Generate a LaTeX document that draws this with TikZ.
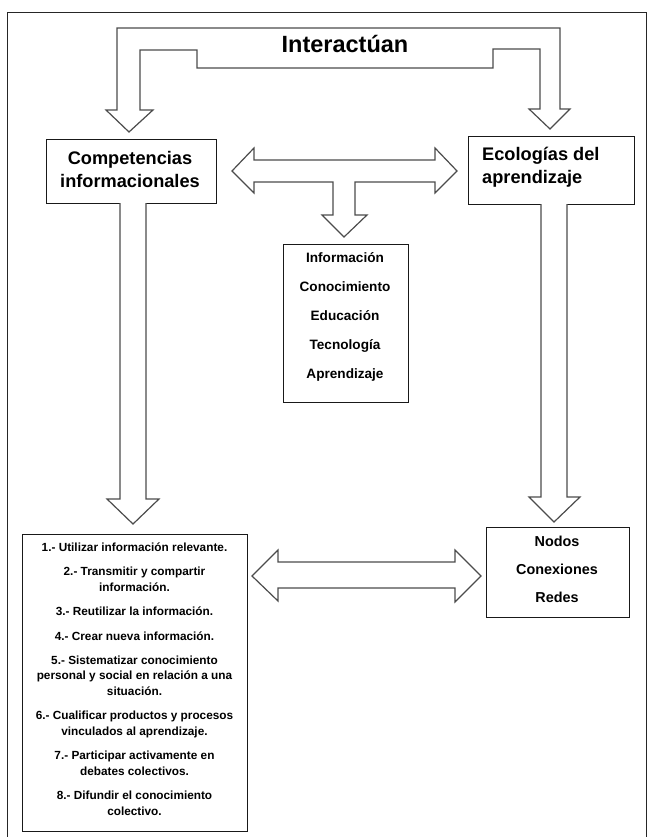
\documentclass[tikz,border=0pt]{standalone}
\usepackage{fontspec}
\setmainfont{Liberation Sans}
\begin{document}
\begin{tikzpicture}[x=1pt,y=-1pt,
  frame/.style={draw=black!85, line width=0.9pt},
  box/.style={draw=black!90, line width=1pt, fill=white, inner sep=0pt, outer sep=0pt},
  blockarrow/.style={draw=black!70, line width=1.2pt, line join=miter, fill=white},
  head/.style={font=\bfseries\fontsize{23.5}{28}\selectfont, inner sep=0pt},
  titletxt/.style={font=\bfseries\fontsize{18.2}{23}\selectfont, inner sep=0pt},
  wordtxt/.style={font=\bfseries\fontsize{13.6}{29}\selectfont, align=center, inner sep=0pt},
  listtxt/.style={font=\bfseries\fontsize{11.8}{15.5}\selectfont, align=center, inner sep=0pt}
]
\useasboundingbox (0,0) rectangle (648,837);
% outer frame
\draw[frame] (7,845) -- (7,12) -- (646,12) -- (646,845);

% boxes
\node[box, minimum width=170pt, minimum height=63pt] (comp) at (131,171.5) {};
\node[box, minimum width=166pt, minimum height=67pt] (eco) at (551,170.5) {};
\node[box, minimum width=125pt, minimum height=158pt] (info) at (345.5,323) {};
\node[box, minimum width=225pt, minimum height=297pt] (list) at (134.5,682.5) {};
\node[box, minimum width=143pt, minimum height=90pt] (nodos) at (557.5,572) {};

% Interactuan arrow
\draw[blockarrow] (129,132) -- (153,110) -- (140,110) -- (140,50) -- (197,50) -- (197,68)
  -- (493,68) -- (493,49) -- (540,49) -- (540,109) -- (529,109) -- (550,129)
  -- (570,109) -- (560,109) -- (560,28) -- (117,28) -- (117,110) -- (106,110) -- cycle;
\node[head] (inter) at (345,44) {Interactúan};

% middle double arrow with down stem
\draw[blockarrow] (232,171) -- (254,148) -- (254,160) -- (435,160) -- (435,148) -- (457,171)
  -- (435,193) -- (435,182) -- (355,182) -- (355,215) -- (367,215) -- (344,237)
  -- (322,215) -- (333,215) -- (333,182) -- (254,182) -- (254,193) -- cycle;

% long down arrows
\draw[blockarrow] (comp.south -| 120,0) -- (120,499) -- (107,499) -- (133,524) -- (159,499) -- (146,499) -- (comp.south -| 146,0);
\draw[blockarrow] (eco.south -| 541,0) -- (541,497) -- (529,497) -- (554,522) -- (580,497) -- (567,497) -- (eco.south -| 567,0);

% bottom double arrow
\draw[blockarrow] (252,576) -- (278,550) -- (278,562) -- (455,562) -- (455,550) -- (481,576)
  -- (455,602) -- (455,588) -- (278,588) -- (278,601) -- cycle;

% texts
\node[titletxt, align=center] (compt) at (130,169) {Competencias\\informacionales};
\node[titletxt, align=left, anchor=west] (ecot) at (482,167) {Ecologías del\\aprendizaje};
\node[wordtxt] (infot) at (345,317) {Información\\Conocimiento\\Educación\\Tecnología\\Aprendizaje};
\node[wordtxt, font=\bfseries\fontsize{14.4}{28}\selectfont] (nodost) at (557,569) {Nodos\\Conexiones\\Redes};
\node[listtxt] (listt) at (134.5,679) {1.- Utilizar información relevante.\\[8.9pt]
2.- Transmitir y compartir\\información.\\[8.9pt]
3.- Reutilizar la información.\\[8.9pt]
4.- Crear nueva información.\\[8.9pt]
5.- Sistematizar conocimiento\\personal y social en relación a una\\situación.\\[8.9pt]
6.- Cualificar productos y procesos\\vinculados al aprendizaje.\\[8.9pt]
7.- Participar activamente en\\debates colectivos.\\[8.9pt]
8.- Difundir el conocimiento\\colectivo.};
\end{tikzpicture}
\end{document}
